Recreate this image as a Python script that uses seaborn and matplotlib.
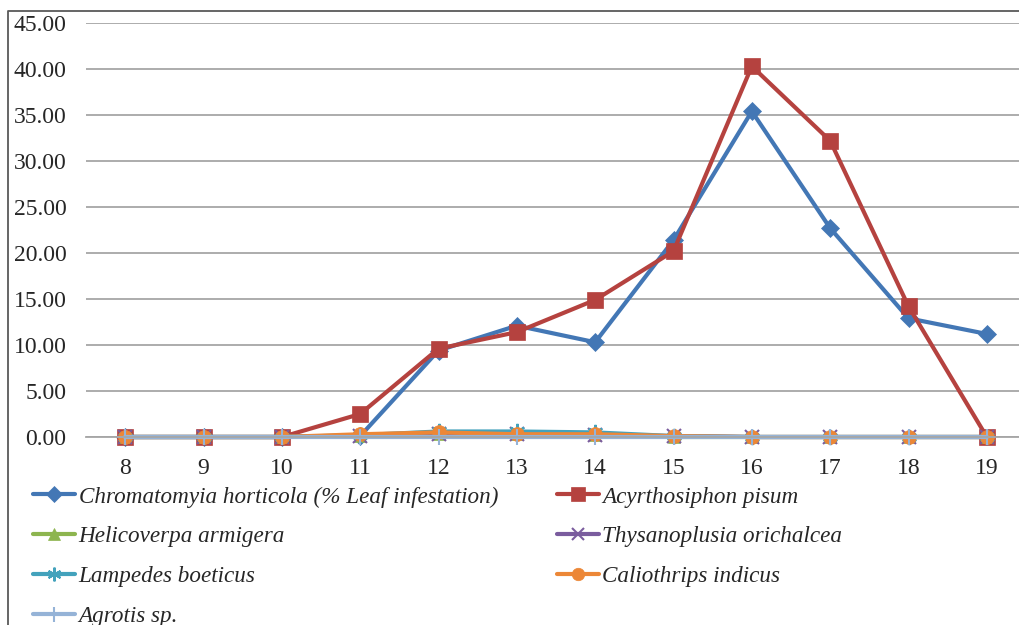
import matplotlib
matplotlib.use('Agg')
import matplotlib.pyplot as plt
from matplotlib.lines import Line2D
import pandas as pd
import seaborn as sns

weeks = [8, 9, 10, 11, 12, 13, 14, 15, 16, 17, 18, 19]

chromatomyia = [0, 0, 0, 0.1, 9.4, 12.1, 10.3, 21.4, 35.4, 22.7, 12.9, 11.2]
acyrthosiphon = [0, 0, 0, 2.5, 9.6, 11.4, 14.9, 20.2, 40.3, 32.2, 14.2, 0]
helicoverpa = [0, 0, 0, 0.1, 0.3, 0.3, 0.2, 0, 0, 0, 0, 0]
thysanoplusia = [0, 0, 0, 0.1, 0.3, 0.3, 0.2, 0.1, 0, 0, 0, 0]
lampedes = [0, 0, 0, 0.2, 0.6, 0.6, 0.5, 0.1, 0, 0, 0, 0]
caliothrips = [0, 0, 0, 0.3, 0.5, 0.3, 0.3, 0.1, 0, 0, 0, 0]
agrotis = [0, 0, 0, 0, 0, 0, 0, 0, 0, 0, 0, 0]

names = ['Chromatomyia horticola (% Leaf infestation)', 'Acyrthosiphon pisum',
         'Helicoverpa armigera', 'Thysanoplusia orichalcea',
         'Lampedes boeticus', 'Caliothrips indicus', 'Agrotis sp.']
series = [chromatomyia, acyrthosiphon, helicoverpa, thysanoplusia,
          lampedes, caliothrips, agrotis]
colors = ['#4377B5', '#B5423F', '#8DB54F', '#7A5C9E', '#43A2BC', '#EC8737', '#95B3D7']
markers = ['D', 's', '^', 'x', (6, 2, 0), 'o', '+']
msizes = [9, 11, 9, 10, 11, 10, 12]

sns.set_style('white')
plt.rcParams['font.family'] = ['Liberation Serif', 'DejaVu Serif']

fig = plt.figure(figsize=(10.19, 6.25), dpi=100)
ax = fig.add_axes([86 / 1019, 1 - 437 / 625, 940 / 1019, 414 / 625])

handles = []
for name, vals, c, m, ms in zip(names, series, colors, markers, msizes):
    df = pd.DataFrame({'week': weeks, 'value': vals})
    thin = m in ('x', '+') or isinstance(m, tuple)
    sns.lineplot(data=df, x='week', y='value', ax=ax, color=c, marker=m,
                 markersize=ms, linewidth=3, markeredgecolor=c,
                 markeredgewidth=1.5 if thin else 0.5, clip_on=False)
    handles.append(Line2D([], [], color=c, marker=m, markersize=ms * 0.9, linewidth=3,
                          markeredgecolor=c, markeredgewidth=1.5 if thin else 0.5))

ax.set_xlim(7.5, 19.5)
ax.set_ylim(0, 45)
ax.set_xticks(weeks)
ax.set_xticklabels([str(w) for w in weeks], fontsize=17)
ax.set_yticks(range(0, 46, 5))
ax.set_yticklabels([f'{v:.2f}' for v in range(0, 46, 5)], fontsize=17)
ax.yaxis.grid(True, color='#A6A6A6', linewidth=1.3)
ax.set_axisbelow(True)
for s in ['top', 'right', 'left']:
    ax.spines[s].set_visible(False)
ax.spines['bottom'].set_color('#A6A6A6')
ax.spines['bottom'].set_linewidth(1.3)
ax.tick_params(axis='y', length=0, pad=14)
ax.tick_params(axis='x', length=0, pad=15)
ax.set_xlabel('')
ax.set_ylabel('')

# legend filled row by row
order = [0, 2, 4, 6, 1, 3, 5]
leg = fig.legend([handles[i] for i in order], [names[i] for i in order],
                 loc='upper left', bbox_to_anchor=(24 / 1019, 1 - 477 / 625),
                 ncol=2, frameon=False, prop={'family': 'Liberation Serif', 'style': 'italic', 'size': 16.7},
                 handlelength=1.8, handletextpad=0.15, columnspacing=2.55,
                 labelspacing=0.8, borderaxespad=0)

# outer chart frame
fig.add_artist(Line2D([8 / 1019, 8 / 1019, 1], [0, 1 - 11 / 625, 1 - 11 / 625],
                      color='#595959', linewidth=1.3, transform=fig.transFigure))

fig.savefig('out.png', dpi=100)
